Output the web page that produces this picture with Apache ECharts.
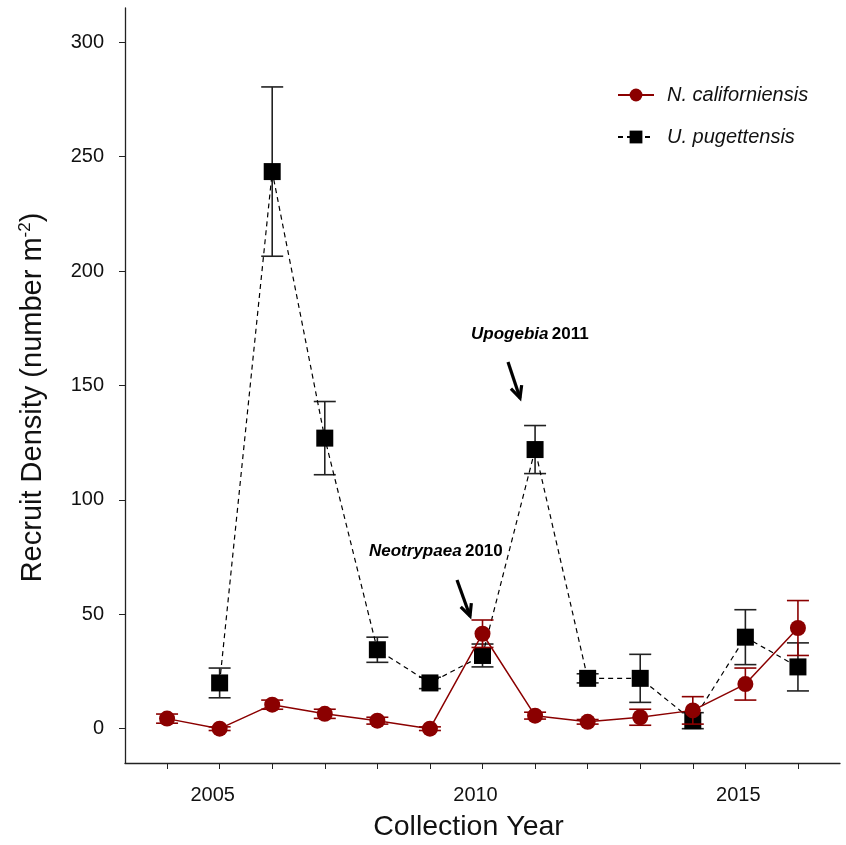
<!DOCTYPE html>
<html>
<head>
<meta charset="utf-8">
<script src="https://cdn.jsdelivr.net/npm/echarts@6/dist/echarts.min.js"></script>
<style>html,body{margin:0;padding:0;background:#fff}#c{width:846px;height:845px}</style>
</head>
<body>
<div id="c"></div>
<script>
// ---- data ----
const nYears = [2004,2005,2006,2007,2008,2009,2010,2011,2012,2013,2014,2015,2016];
const nMean  = [4.4, 0, 10.5, 6.5, 3.5, 0, 41.5, 5.7, 3, 5, 8, 19.5, 44];
const nErr   = [2, 0.8, 2, 2, 1.5, 0.8, 6, 1.5, 1, 3.5, 6, 7, 12];
const uYears = [2005,2006,2007,2008,2009,2010,2011,2012,2013,2014,2015,2016];
const uMean  = [20, 243.5, 127, 34.5, 20, 32, 122, 22, 22, 3.5, 40, 27];
const uErr   = [6.5, 37, 16, 5.5, 2.5, 5, 10.5, 2, 10.5, 3.5, 12, 10.5];
const yTicks = [0,50,100,150,200,250,300];
const xTicks = [2004,2005,2006,2007,2008,2009,2010,2011,2012,2013,2014,2015,2016];
const xLabels = [2005,2010,2015];
const nName = 'N. californiensis';
const uName = 'U. pugettensis';
const RED = '#8b0000';

const nData = nYears.map((y,i)=>[y,nMean[i]]);
const uData = uYears.map((y,i)=>[y,uMean[i]]);
const nErrData = nYears.map((y,i)=>[y,nMean[i],nErr[i]]);
const uErrData = uYears.map((y,i)=>[y,uMean[i],uErr[i]]);

function errRender(color){
  return function(params, api){
    const x = api.value(0), y = api.value(1), e = api.value(2);
    const t = api.coord([x, y+e]), b = api.coord([x, y-e]);
    const hw = 11;
    const st = {stroke: color, lineWidth: 1.6};
    return {type:'group', children:[
      {type:'line', shape:{x1:t[0],y1:t[1],x2:b[0],y2:b[1]}, style:st},
      {type:'line', shape:{x1:t[0]-hw,y1:t[1],x2:t[0]+hw,y2:t[1]}, style:st},
      {type:'line', shape:{x1:b[0]-hw,y1:b[1],x2:b[0]+hw,y2:b[1]}, style:st}
    ]};
  };
}

function arrow(x1,y1,x2,y2){
  const ang = Math.atan2(y2-y1,x2-x1), L = 13, a = 0.45;
  const p1 = [x2 - L*Math.cos(ang-a), y2 - L*Math.sin(ang-a)];
  const p2 = [x2 - L*Math.cos(ang+a), y2 - L*Math.sin(ang+a)];
  return [
    {type:'line', shape:{x1:x1,y1:y1,x2:x2,y2:y2}, style:{stroke:'#000',lineWidth:3.2}},
    {type:'polyline', shape:{points:[p1,[x2,y2],p2]}, style:{stroke:'#000',lineWidth:3.2,fill:null}}
  ];
}

const chart = echarts.init(document.getElementById('c'), null, {renderer:'canvas'});
const font = 'Liberation Sans, Arial, sans-serif';
chart.setOption({
  animation:false,
  backgroundColor:'#fff',
  grid:{left:125, right:6, top:8, bottom:82, outerBoundsMode:'none', containLabel:false},
  xAxis:{
    type:'value', min:2003.2, max:2016.8,
    splitLine:{show:false},
    axisLine:{show:true, onZero:false, lineStyle:{color:'#222', width:1.3}},
    axisTick:{show:true, length:6, customValues:xTicks, lineStyle:{color:'#222'}},
    axisLabel:{customValues:xLabels, fontSize:20, color:'#111', fontFamily:font, margin:22,
      padding:[0,14,0,0], formatter:v=>String(v)},
    name:'Collection Year', nameLocation:'middle', nameGap:50,
    nameTextStyle:{fontSize:28.5, color:'#111', fontFamily:font, padding:[0,28,0,0]}
  },
  yAxis:{
    type:'value', min:-15, max:315,
    splitLine:{show:false},
    axisLine:{show:true, onZero:false, lineStyle:{color:'#222', width:1.3}},
    axisTick:{show:true, length:6, customValues:yTicks, lineStyle:{color:'#222'}},
    axisLabel:{customValues:yTicks, fontSize:20, color:'#111', fontFamily:font, margin:21},
    name:'Recruit Density (number m{sup|-2})', nameLocation:'middle', nameGap:77,
    nameTextStyle:{fontSize:29, color:'#111', fontFamily:font, padding:[0,24,0,0],
      rich:{sup:{fontSize:17, verticalAlign:'top', padding:[0,0,14,0], color:'#111', fontFamily:font}}}
  },
  legend:{
    orient:'vertical', left:612, top:80, itemGap:22, itemWidth:36, itemHeight:16,
    data:[nName, uName],
    textStyle:{fontSize:20, fontStyle:'italic', color:'#111', fontFamily:font, padding:[0,0,0,8]}
  },
  series:[
    {type:'custom', name:'uerr', renderItem:errRender('#222'), data:uErrData, z:2, silent:true},
    {type:'line', name:uName, data:uData, symbol:'rect', symbolSize:17,
     itemStyle:{color:'#000'}, lineStyle:{color:'#000', width:1.2, type:[5,4]}, z:3},
    {type:'custom', name:'nerr', renderItem:errRender(RED), data:nErrData, z:4, silent:true},
    {type:'line', name:nName, data:nData, symbol:'circle', symbolSize:16,
     itemStyle:{color:RED}, lineStyle:{color:RED, width:1.5}, z:5}
  ],
  graphic:[
    {type:'text', left:369, top:543, style:{rich:{i:{fontStyle:'italic',fontWeight:'bold',fontSize:17,fontFamily:font,fill:'#000'}, b:{fontWeight:'bold',fontSize:17,fontFamily:font,fill:'#000'}}, text:'{i|Neotrypaea} {b|2010}'}},
    {type:'text', left:471, top:326, style:{rich:{i:{fontStyle:'italic',fontWeight:'bold',fontSize:17,fontFamily:font,fill:'#000'}, b:{fontWeight:'bold',fontSize:17,fontFamily:font,fill:'#000'}}, text:'{i|Upogebia} {b|2011}'}},
    ...arrow(457,580,470,616),
    ...arrow(508,362,520,398)
  ]
});
</script>
</body>
</html>
